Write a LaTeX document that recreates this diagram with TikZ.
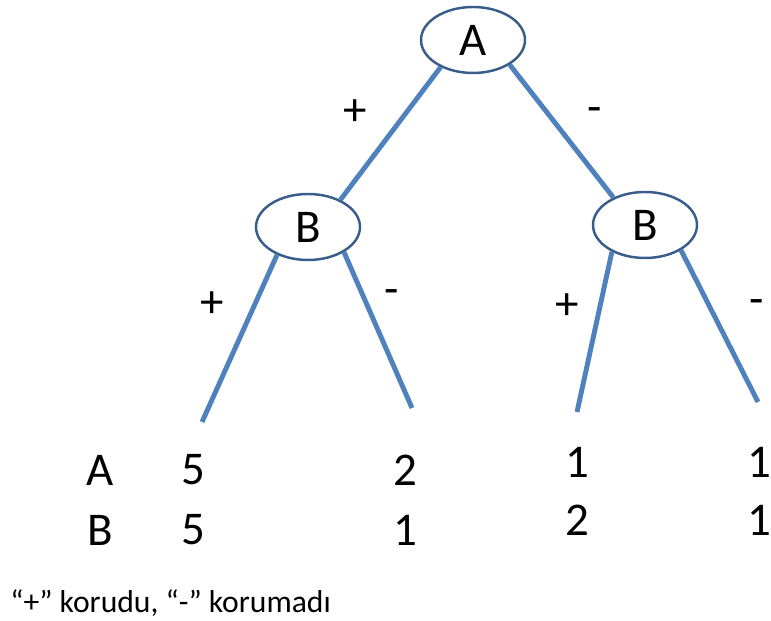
\documentclass[tikz,border=0pt]{standalone}
\usepackage{fontspec}
\setmainfont{Carlito}
\usetikzlibrary{shapes.geometric}
\definecolor{linblue}{RGB}{79,129,189}
\definecolor{ringblue}{RGB}{56,93,138}

\begin{document}
\begin{tikzpicture}[auto,
    ell/.style={ellipse, draw=ringblue, line width=1.4pt, inner sep=0pt,
      minimum width=2.08cm, minimum height=1.32cm, font=\fontsize{26.7}{32}\selectfont},
    branch/.style={draw=linblue, line width=2.8pt},
    txt/.style={font=\fontsize{26.7}{32}\selectfont, inner sep=0pt}]
    \useasboundingbox (0,0) rectangle (15.42,12.42);
    \node[ell] (a) at (9.46, 11.62) {A};
    \node[ell] (b1) at (6.16, 7.88) {B};
    \node[ell] (b2) at (12.9, 7.92) {B};
    \coordinate (l1) at (4.04, 3.98);
    \coordinate (l2) at (8.24, 4.26);
    \coordinate (l3) at (11.54, 4.18);
    \coordinate (l4) at (15.16, 4.38);
    \draw [branch] (a.220) to (b1.40);
    \draw [branch] (a.326) to (b2.139);
    \draw [branch] (b1.222) to (l1);
    \draw [branch] (b1.325) to (l2);
    \draw [branch] (b2.219) to (l3);
    \draw [branch] (b2.325) to (l4);
    \node[txt] (p0) at (7.1, 10.16) {+};
    \node[txt] (m0) at (11.9, 10.12) {-};
    \node[txt] (p1) at (4.24, 6.32) {+};
    \node[txt] (m1) at (7.84, 6.48) {-};
    \node[txt] (p2) at (11.34, 6.28) {+};
    \node[txt] (m2) at (15.14, 6.28) {-};
    \node[txt] (ra) at (2.0, 3.02) {A};
    \node[txt] (rb) at (2.0, 1.82) {B};
    \node[txt] (a1) at (3.86, 3.02) {5};
    \node[txt] (b1v) at (3.86, 1.82) {5};
    \node[txt] (a2) at (8.1, 3.02) {2};
    \node[txt] (b2v) at (8.1, 1.82) {1};
    \node[txt] (a3) at (11.54, 3.18) {1};
    \node[txt] (b3v) at (11.54, 2.02) {2};
    \node[txt] (a4) at (15.18, 3.18) {1};
    \node[txt] (b4v) at (15.18, 2.02) {1};
    \node[anchor=west, inner sep=0pt, font=\fontsize{18}{22}\selectfont] (note) at (0.2, 0.36) {“+” korudu, “-” korumadı};
  \end{tikzpicture}
\end{document}
